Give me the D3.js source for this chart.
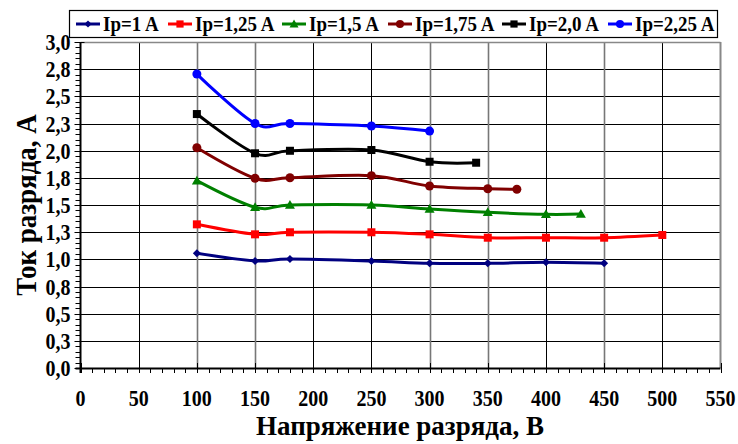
<!DOCTYPE html>
<html>
<head>
<meta charset="utf-8">
<script src="https://cdn.jsdelivr.net/npm/d3@7/dist/d3.min.js"></script>
<style>
  html, body { margin: 0; padding: 0; background: #fff; }
  svg { display: block; }
</style>
</head>
<body>
<svg id="chart" width="738" height="444" font-family="'Liberation Serif', 'DejaVu Serif', serif" font-weight="bold"></svg>
<script>
// Discharge voltage, V (x) and discharge current, A (y) for each Ip setting
const xIp100  = [100, 150, 180, 250, 300, 350, 400, 450];
const yIp100  = [1.055, 0.985, 1.003, 0.985, 0.963, 0.963, 0.973, 0.963];

const xIp125  = [100, 150, 180, 250, 300, 350, 400, 450, 500];
const yIp125  = [1.322, 1.23, 1.249, 1.249, 1.23, 1.199, 1.199, 1.199, 1.224];

const xIp150  = [100, 150, 180, 250, 300, 350, 400, 430];
const yIp150  = [1.724, 1.479, 1.5, 1.5, 1.463, 1.433, 1.414, 1.417];

const xIp175  = [100, 150, 180, 250, 300, 350, 375];
const yIp175  = [2.027, 1.746, 1.751, 1.77, 1.675, 1.65, 1.645];

const xIp200  = [100, 150, 180, 250, 300, 340];
const yIp200  = [2.337, 1.976, 1.999, 2.006, 1.898, 1.889];

const xIp225  = [100, 150, 180, 250, 300];
const yIp225  = [2.705, 2.25, 2.25, 2.227, 2.18];

const seriesNames = ["Ip=1 A", "Ip=1,25 A", "Ip=1,5 A", "Ip=1,75 A", "Ip=2,0 A", "Ip=2,25 A"];

// Axis ticks and their labels
const xTickValues = [0, 50, 100, 150, 200, 250, 300, 350, 400, 450, 500, 550];
const xTickLabels = ["0", "50", "100", "150", "200", "250", "300", "350", "400", "450", "500", "550"];
const yTickValues = [0, 0.25, 0.5, 0.75, 1.0, 1.25, 1.5, 1.75, 2.0, 2.25, 2.5, 2.75, 3.0];
const yTickLabels = ["0,0", "0,3", "0,5", "0,8", "1,0", "1,3", "1,5", "1,8", "2,0", "2,3", "2,5", "2,8", "3,0"];

const xTitle = "Напряжение разряда, В";
const yTitle = "Ток разряда, А";

const series = [
  { name: seriesNames[0], xs: xIp100, ys: yIp100, color: "#000080", marker: "diamond" },
  { name: seriesNames[1], xs: xIp125, ys: yIp125, color: "#ff0000", marker: "square" },
  { name: seriesNames[2], xs: xIp150, ys: yIp150, color: "#008000", marker: "triangle" },
  { name: seriesNames[3], xs: xIp175, ys: yIp175, color: "#800000", marker: "circle" },
  { name: seriesNames[4], xs: xIp200, ys: yIp200, color: "#000000", marker: "square" },
  { name: seriesNames[5], xs: xIp225, ys: yIp225, color: "#0000ff", marker: "circle" }
];

const svg = d3.select("#chart");
const plot = { left: 80.5, right: 720.5, top: 42, bottom: 368 };

const x = d3.scaleLinear().domain([0, 550]).range([plot.left, plot.right]);
const y = d3.scaleLinear().domain([0, 3]).range([plot.bottom, plot.top]);

const greyX = new Set([100, 150, 300, 350, 450]);

// Tall, narrow bold serif text
function label(parent, px, py, str, size, stretch, anchor) {
  return parent.append("text")
    .attr("transform", `translate(${px},${py}) scale(1,${stretch})`)
    .attr("text-anchor", anchor)
    .attr("font-size", size)
    .text(str);
}

// Grid lines
const grid = svg.append("g");
grid.selectAll("line.h").data(yTickValues.slice(1, -1)).join("line")
  .attr("x1", plot.left).attr("x2", plot.right)
  .attr("y1", d => Math.round(y(d)) + 0.5).attr("y2", d => Math.round(y(d)) + 0.5)
  .attr("stroke", "#000").attr("stroke-width", 1);
grid.selectAll("line.v").data(xTickValues.slice(1, -1)).join("line")
  .attr("x1", d => Math.round(x(d)) + 0.5).attr("x2", d => Math.round(x(d)) + 0.5)
  .attr("y1", plot.top).attr("y2", plot.bottom)
  .attr("stroke", d => greyX.has(d) ? "#777" : "#000")
  .attr("stroke-width", d => greyX.has(d) ? 1.6 : 1);

// Frame: top and right edges in grey
svg.append("line").attr("x1", plot.left).attr("x2", plot.right)
  .attr("y1", plot.top + 0.5).attr("y2", plot.top + 0.5).attr("stroke", "#888").attr("stroke-width", 1.5);
svg.append("line").attr("x1", plot.right).attr("x2", plot.right)
  .attr("y1", plot.top).attr("y2", plot.bottom).attr("stroke", "#888").attr("stroke-width", 2);

// X axis: major ticks cross the axis, minor ticks every 10 V below it
const xAxisG = svg.append("g").attr("transform", `translate(0,${plot.bottom})`);
xAxisG.selectAll("line.minor").data(d3.range(0, 551, 10)).join("line")
  .attr("x1", d => Math.round(x(d)) + 0.5).attr("x2", d => Math.round(x(d)) + 0.5)
  .attr("y1", 0).attr("y2", 5)
  .attr("stroke", "#000").attr("stroke-width", 1);
xAxisG.selectAll("line.major").data(xTickValues).join("line")
  .attr("x1", d => Math.round(x(d)) + 0.5).attr("x2", d => Math.round(x(d)) + 0.5)
  .attr("y1", -5).attr("y2", 5)
  .attr("stroke", "#000").attr("stroke-width", 1);
xAxisG.append("line").attr("x1", plot.left - 5).attr("x2", plot.right)
  .attr("y1", 0.5).attr("y2", 0.5).attr("stroke", "#000").attr("stroke-width", 2);
xTickValues.forEach((d, i) => label(xAxisG, x(d), 38, xTickLabels[i], 20, 1.13, "middle"));

// Y axis: minor ticks every 0.05 A on the left
const yAxisG = svg.append("g").attr("transform", `translate(${plot.left},0)`);
yAxisG.selectAll("line.minor").data(d3.range(0, 61).map(i => i * 0.05)).join("line")
  .attr("x1", -5).attr("x2", 0)
  .attr("y1", d => Math.round(y(d)) + 0.5).attr("y2", d => Math.round(y(d)) + 0.5)
  .attr("stroke", "#000").attr("stroke-width", 1);
yAxisG.selectAll("line.major").data(yTickValues).join("line")
  .attr("x1", -6).attr("x2", 4)
  .attr("y1", d => Math.round(y(d)) + 0.5).attr("y2", d => Math.round(y(d)) + 0.5)
  .attr("stroke", "#000").attr("stroke-width", 1);
yAxisG.append("line").attr("x1", 0).attr("x2", 0)
  .attr("y1", plot.top).attr("y2", plot.bottom + 5).attr("stroke", "#000").attr("stroke-width", 2);
yTickValues.forEach((d, i) => label(yAxisG, -10, y(d) + 8, yTickLabels[i], 20, 1.13, "end"));

// Axis titles
label(svg, 400, 435, xTitle, 27, 1.05, "middle");
svg.append("text").attr("transform", `translate(36,${(plot.top + plot.bottom) / 2}) rotate(-90) scale(1,1.08)`)
  .attr("text-anchor", "middle").attr("font-size", 27).text(yTitle);

// Marker drawing
function drawMarker(g, type, color, cx, cy, scale) {
  const s = scale || 1;
  if (type === "diamond") {
    const r = 4 * s;
    g.append("path").attr("d", `M${cx},${cy - r}L${cx + r},${cy}L${cx},${cy + r}L${cx - r},${cy}Z`).attr("fill", color);
  } else if (type === "square") {
    const h = 4 * s;
    g.append("rect").attr("x", cx - h).attr("y", cy - h).attr("width", 2 * h).attr("height", 2 * h).attr("fill", color);
  } else if (type === "triangle") {
    const h = 5 * s;
    g.append("path").attr("d", `M${cx},${cy - h}L${cx + h},${cy + h * 0.75}L${cx - h},${cy + h * 0.75}Z`).attr("fill", color);
  } else {
    g.append("circle").attr("cx", cx).attr("cy", cy).attr("r", 4.5 * s).attr("fill", color);
  }
}

const line = d3.line().curve(d3.curveCatmullRom.alpha(0)).x(d => x(d[0])).y(d => y(d[1]));

series.forEach(s => {
  const pts = s.xs.map((v, i) => [v, s.ys[i]]);
  const g = svg.append("g");
  g.append("path").datum(pts).attr("d", line)
    .attr("fill", "none").attr("stroke", s.color).attr("stroke-width", 3);
  pts.forEach(p => drawMarker(g, s.marker, s.color, x(p[0]), y(p[1])));
});

// Legend
const legend = svg.append("g");
legend.append("rect").attr("x", 69.5).attr("y", 10.5).attr("width", 648).attr("height", 27)
  .attr("fill", "#fff").attr("stroke", "#000").attr("stroke-width", 1.2);
const legendX = [76, 168, 282, 388, 502, 608];
series.forEach((s, i) => {
  const lx = legendX[i];
  const ly = 24;
  legend.append("line").attr("x1", lx).attr("x2", lx + 24).attr("y1", ly).attr("y2", ly)
    .attr("stroke", s.color).attr("stroke-width", 3);
  drawMarker(legend, s.marker, s.color, lx + 12, ly, 0.9);
  label(legend, lx + 27, ly + 7, s.name, 19, 1.1, "start");
});
</script>
</body>
</html>
